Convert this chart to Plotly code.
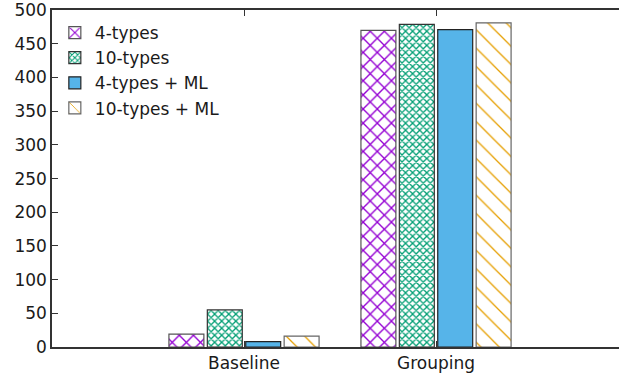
import plotly.graph_objects as go

categories = ["Baseline", "Grouping"]
series_names = ["4-types", "10-types", "4-types + ML", "10-types + ML"]
vals_4types = [19, 470]
vals_10types = [55, 479]
vals_4types_ml = [8, 471]
vals_10types_ml = [16, 481]
y_ticks = [0, 50, 100, 150, 200, 250, 300, 350, 400, 450, 500]

series_vals = [vals_4types, vals_10types, vals_4types_ml, vals_10types_ml]
styles = [
    dict(color="white", line=dict(color="#555555", width=1.2),
         pattern=dict(shape="x", fgcolor="#9400d3", bgcolor="white", size=10, solidity=0.25, fillmode="replace")),
    dict(color="white", line=dict(color="#333333", width=1.2),
         pattern=dict(shape="x", fgcolor="#009e73", bgcolor="white", size=5, solidity=0.45, fillmode="replace")),
    dict(color="#56b4e9", line=dict(color="#222222", width=1.2)),
    dict(color="white", line=dict(color="#666666", width=1.2),
         pattern=dict(shape="\\", fgcolor="#e69f00", bgcolor="white", size=13, solidity=0.1, fillmode="replace")),
]

fig = go.Figure()
for name, vals, st in zip(series_names, series_vals, styles):
    fig.add_trace(go.Bar(x=categories, y=vals, name=name, marker=st))

# empty carrier trace so the mirrored top axis (with its inward ticks) is drawn
fig.add_trace(go.Bar(x=categories, y=[None] * len(categories), xaxis="x2",
                     showlegend=False, hoverinfo="skip"))

axis_style = dict(
    type="category", range=[-1, 1.953],
    showline=True, linecolor="#333333", linewidth=1.5,
    ticks="inside", ticklen=6, tickcolor="#333333", tickwidth=1,
    showgrid=False, zeroline=False,
)

fig.update_layout(
    width=619, height=379,
    margin=dict(l=52, r=0, t=10, b=32),
    paper_bgcolor="white", plot_bgcolor="white",
    barmode="group", bargap=0.2, bargroupgap=0.09,
    font=dict(family="DejaVu Sans", size=17, color="#1a1a1a"),
    showlegend=True,
    legend=dict(x=0.005, y=0.985, xanchor="left", yanchor="top",
                bgcolor="rgba(0,0,0,0)", font=dict(size=17),
                tracegroupgap=0, itemwidth=30),
    xaxis=dict(**axis_style, mirror=False),
    xaxis2=dict(**axis_style, overlaying="x", side="top", matches="x", showticklabels=False),
)
fig.update_yaxes(
    range=[0, 500.2], tickvals=y_ticks, automargin=False, ticklabeloverflow="allow",
    showline=True, linecolor="#333333", linewidth=1.5, mirror=False,
    ticks="inside", ticklen=6, tickcolor="#333333", tickwidth=1,
    showgrid=False, zeroline=False,
)

fig.write_html("out.html")
